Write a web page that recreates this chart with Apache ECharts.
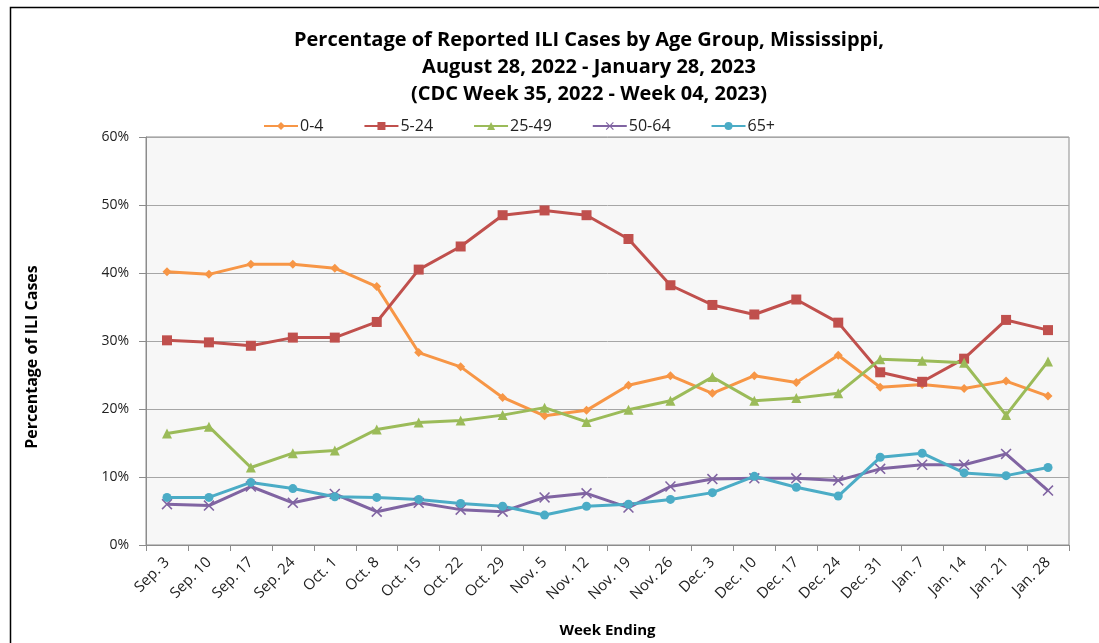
<!DOCTYPE html>
<html><head><meta charset="utf-8">
<script src="https://cdn.jsdelivr.net/npm/echarts@6/dist/echarts.min.js"></script>
<style>html,body{margin:0;padding:0;background:#fff}#c{width:1099px;height:643px}</style>
</head><body><div id="c"></div>
<script>
const categories = ['Sep. 3','Sep. 10','Sep. 17','Sep. 24','Oct. 1','Oct. 8','Oct. 15','Oct. 22','Oct. 29','Nov. 5','Nov. 12','Nov. 19','Nov. 26','Dec. 3','Dec. 10','Dec. 17','Dec. 24','Dec. 31','Jan. 7','Jan. 14','Jan. 21','Jan. 28'];
const age0_4   = [40.2,39.8,41.3,41.3,40.7,38.0,28.3,26.2,21.7,19.0,19.8,23.5,24.9,22.3,24.9,23.9,27.9,23.2,23.6,23.0,24.1,21.9];
const age5_24  = [30.1,29.8,29.3,30.5,30.5,32.8,40.5,43.9,48.5,49.2,48.5,45.0,38.2,35.3,33.9,36.1,32.7,25.4,24.0,27.4,33.1,31.6];
const age25_49 = [16.4,17.4,11.4,13.5,13.9,17.0,18.0,18.3,19.1,20.2,18.1,19.9,21.2,24.7,21.2,21.6,22.3,27.3,27.1,26.8,19.1,27.0];
const age50_64 = [6.0,5.8,8.6,6.2,7.5,4.9,6.2,5.2,4.9,7.0,7.6,5.5,8.6,9.7,9.8,9.8,9.5,11.2,11.8,11.8,13.4,8.0];
const age65p   = [7.0,7.0,9.2,8.3,7.1,7.0,6.7,6.1,5.7,4.4,5.7,6.0,6.7,7.7,10.1,8.5,7.2,12.9,13.5,10.6,10.2,11.4];
const yTicks = [0,10,20,30,40,50,60];

const FONT = '"Open Sans", "Noto Sans", sans-serif';
const crossPath = 'path://M0,1L1,0L5,4L9,0L10,1L6,5L10,9L9,10L5,6L1,10L0,9L4,5Z';

function mk(name, data, color, symbol, size) {
  return {
    name, type: 'line', data,
    symbol, symbolSize: size,
    lineStyle: { color, width: 3 },
    itemStyle: { color },
    emphasis: { disabled: true },
    z: 3
  };
}

const chart = echarts.init(document.getElementById('c'), null, { renderer: 'canvas' });
chart.setOption({
  animation: false,
  backgroundColor: '#ffffff',
  graphic: [{
    type: 'rect', left: 8, top: 5,
    shape: { width: 1200, height: 700 },
    style: { fill: 'none', stroke: '#000', lineWidth: 1.5 },
    silent: true, z: -10
  }],
  title: {
    text: 'Percentage of Reported ILI Cases by Age Group, Mississippi,\nAugust 28, 2022 - January 28, 2023\n(CDC Week 35, 2022 - Week 04, 2023)',
    left: 584, top: 22, textAlign: 'center',
    textStyle: { fontFamily: FONT, fontSize: 20, fontWeight: 'bold', color: '#000', lineHeight: 27 }
  },
  legend: {
    top: 113, left: 258,
    itemWidth: 34, itemHeight: 10, itemGap: 40,
    textStyle: { fontFamily: FONT, fontSize: 16, color: '#222', padding: [0, 0, 0, -3] },
    data: ['0-4','5-24','25-49','50-64','65+']
  },
  grid: { left: 146, right: 30, top: 137, bottom: 98, outerBoundsMode: 'none', containLabel: false, show: true, backgroundColor: '#f7f7f7', borderColor: '#8c8c8c', borderWidth: 1 },
  xAxis: {
    type: 'category', data: categories, boundaryGap: true,
    name: 'Week Ending', nameLocation: 'middle', nameGap: 78,
    nameTextStyle: { fontFamily: FONT, fontSize: 15, fontWeight: 'bold', color: '#000' },
    axisLine: { lineStyle: { color: '#8c8c8c', width: 1 } },
    axisTick: { show: true, alignWithLabel: false, length: 6, lineStyle: { color: '#8c8c8c' } },
    axisLabel: { rotate: 45, fontFamily: FONT, fontSize: 15, color: '#222', margin: 15, interval: 0 }
  },
  yAxis: {
    type: 'value', min: 0, max: 60, interval: 10,
    name: 'Percentage of ILI Cases', nameLocation: 'middle', nameGap: 106, nameRotate: 90,
    nameTextStyle: { fontFamily: FONT, fontSize: 16, fontWeight: 'bold', color: '#000', padding: [0, 32, 0, 0] },
    axisLine: { show: true, lineStyle: { color: '#8c8c8c', width: 1 } },
    axisTick: { show: true, length: 7, lineStyle: { color: '#8c8c8c' } },
    splitLine: { lineStyle: { color: '#a6a6a6', width: 1 } },
    axisLabel: { formatter: v => yTicks.includes(v) ? v + '%' : '', fontFamily: FONT, fontSize: 14, color: '#222', margin: 17 }
  },
  series: [
    mk('0-4', age0_4, '#f79646', 'diamond', 9),
    mk('5-24', age5_24, '#c0504d', 'rect', 10),
    mk('25-49', age25_49, '#9bbb59', 'triangle', 10),
    mk('50-64', age50_64, '#8064a2', crossPath, 11),
    mk('65+', age65p, '#4bacc6', 'circle', 9)
  ]
});
</script>
</body></html>
